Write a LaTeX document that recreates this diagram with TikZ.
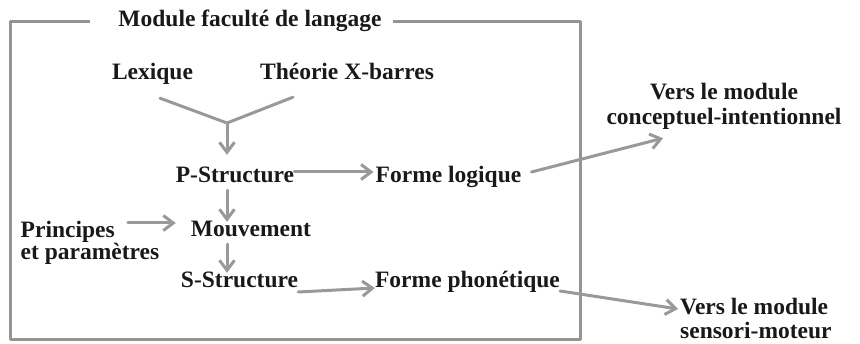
\documentclass[tikz,border=0pt]{standalone}
\usepackage{fontspec}
\setmainfont{Liberation Serif}
\usetikzlibrary{arrows.meta,calc}
\begin{document}
\begin{tikzpicture}[x=1pt,y=1pt,
  txt/.style={font=\bfseries\fontsize{23.5}{24}\selectfont, text=black!90, inner sep=0pt},
  one/.style={txt, anchor=base, text height=16pt, text depth=5pt},
  ln/.style={draw=black!40, line width=3pt, line cap=round, line join=round},
  arr/.style={ln, -{Straight Barb[length=10pt,width=15pt]}},
  frame/.style={draw=black!42, line width=3pt, line join=round}]
\useasboundingbox (0,0) rectangle (860,344);

% frame of the language faculty module, open at the top for its title
\node[one] (T) at (250,317) {Module faculté de langage};
\draw[frame] (90,322) -- (10,322) -- (10,4) -- (580,4) -- (580,322) -- (393,322);

% inputs
\node[one] (Lex) at (152.5,264) {Lexique};
\node[one] (Th) at (347,264) {Théorie X-barres};
\coordinate (J) at (227,221);

% derivation levels
\node[one] (P) at (235,161) {P-Structure};
\node[one] (FL) at (448.5,161) {Forme logique};
\node[one] (M) at (251,107) {Mouvement};
\node[one] (S) at (239.5,56) {S-Structure};
\node[one] (FP) at (467.5,56) {Forme phonétique};
\node[txt, align=left, anchor=base] (Pr) at (90,84) {Principes\\[-2pt]et paramètres};

% external modules
\node[txt, align=center, anchor=base] (VC) at (724,219) {Vers le module\\[1pt]conceptuel-intentionnel};
\node[txt, align=left, anchor=base west] (VS) at (680,5) {Vers le module\\sensori-moteur};

% connectors
\draw[ln] ($(Lex.south)+(7.5,-13)$) -- (J);
\draw[ln] ($(Th.south)+(-54,-12)$) -- (J);
\draw[arr] (J) -- ($(J |- P.north)+(0,12)$);
\draw[arr] ($(P.south -| J)+(0,-2)$) -- ($(M.north -| J)+(0,-1)$);
\draw[arr] ($(M.south -| J)+(0,-2)$) -- ($(S.north -| J)+(0,-1)$);
\draw[arr] ($(M.west)+(-63,8.5)$) -- ($(M.west)+(-15,8.5)$);
\draw[arr] ($(P.base east)+(0,11)$) -- ($(FL.base west)+(-2,11)$);
\draw[arr] ($(FL.base east)+(10,11)$) -- ($(VC.south)+(-61,-8)$);
\draw[arr] ($(S.base east)+(0,-4)$) -- (FP.base west);
\draw[arr] ($(FP.base east)+(0,-3)$) -- ($(VS.base west)+(-2,30)$);
\end{tikzpicture}
\end{document}
